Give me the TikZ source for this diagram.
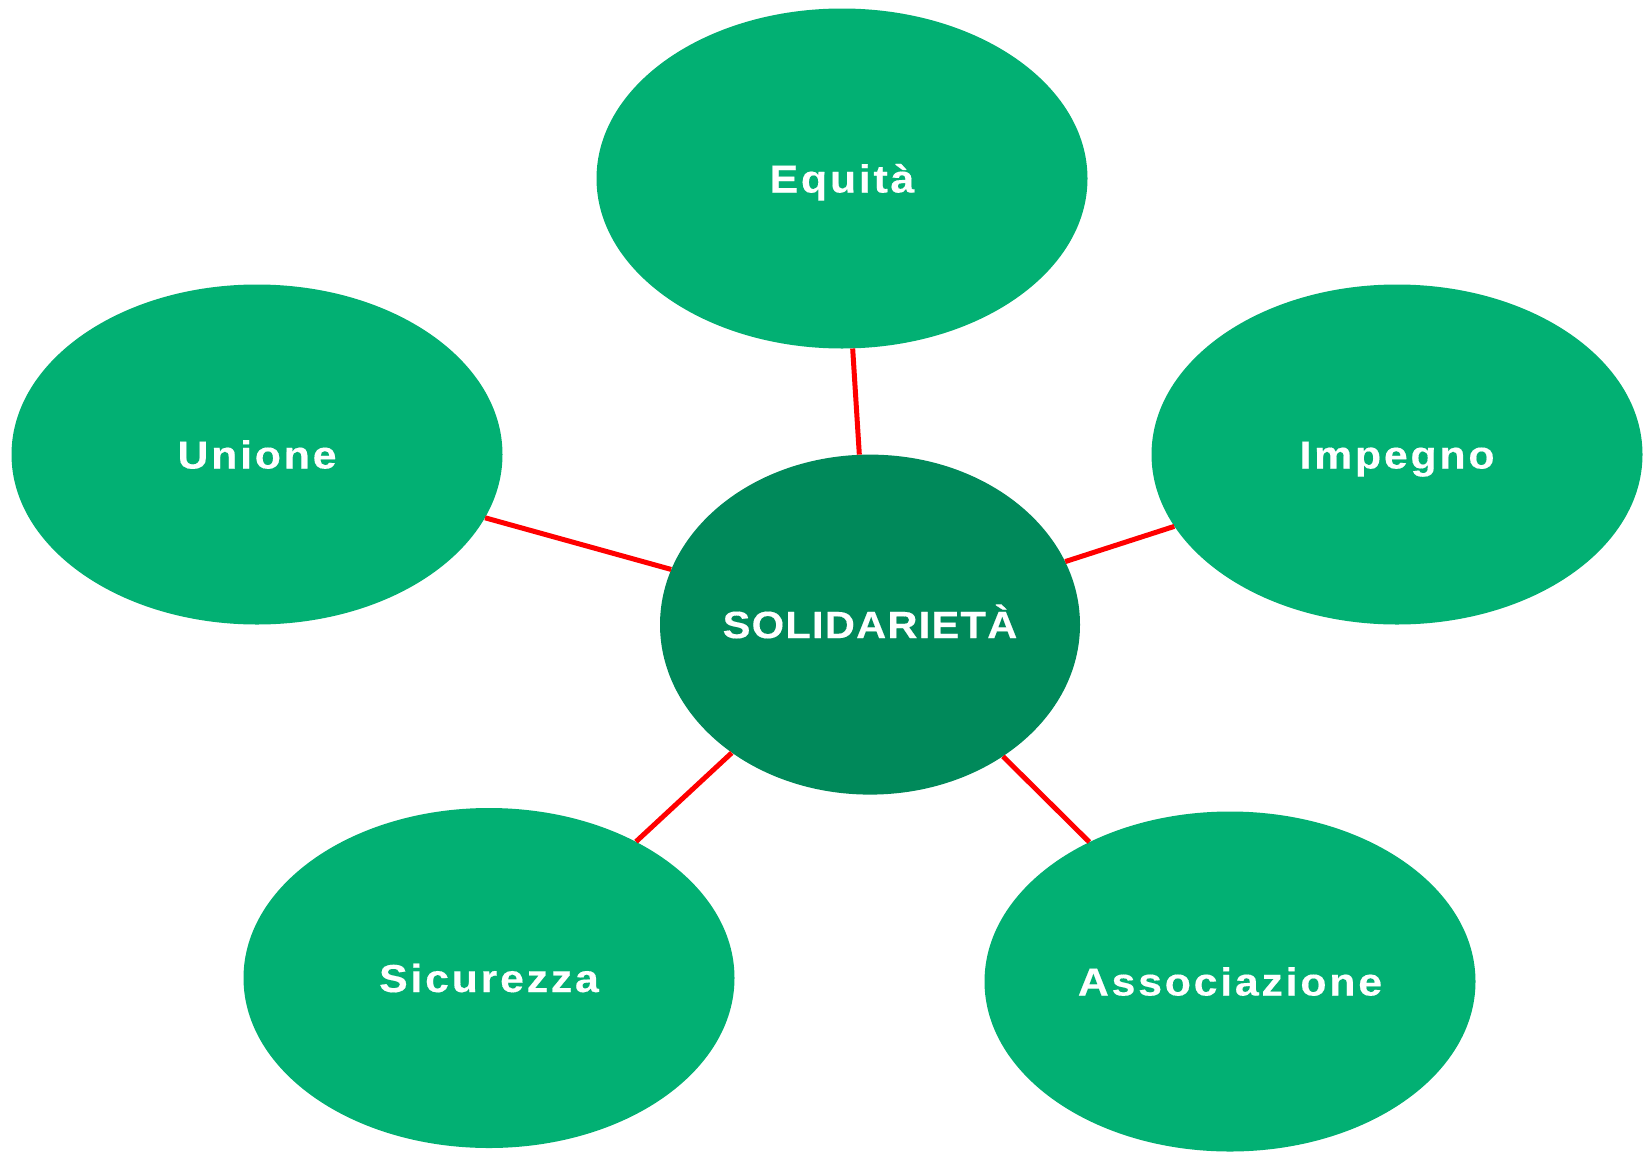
\documentclass[tikz,border=0pt]{standalone}
\usepackage{fontspec}
\setmainfont{Liberation Sans}
\usetikzlibrary{shapes.geometric}
\definecolor{outergreen}{RGB}{2,176,115}
\definecolor{innergreen}{RGB}{0,137,90}
\definecolor{linkred}{RGB}{255,0,0}
\begin{document}
\begin{tikzpicture}[x=1pt,y=-1pt,
  bubble/.style={ellipse,fill=outergreen,draw=none,inner sep=0pt,
    minimum width=491pt,minimum height=340pt,text=white,
    text height=28pt,text depth=0pt,
    font=\fontsize{39}{47}\selectfont\bfseries\addfontfeature{FakeStretch=1.1,FakeBold=0.3,LetterSpace=7}},
  hub/.style={ellipse,fill=innergreen,draw=none,inner sep=0pt,
    minimum width=420pt,minimum height=340pt,text=white,
    text height=27pt,text depth=0pt,
    font=\fontsize{38}{46}\selectfont\bfseries\addfontfeature{FakeStretch=1.1,FakeBold=0.3,LetterSpace=3}},
  link/.style={draw=linkred,line width=5pt}]
\useasboundingbox (0,0) rectangle (1646,1151);
\clip (0,0) rectangle (1646,1151);
\node[bubble] (eq) at (842,178.5) {Equità};
\node[bubble] (un) at (257,454.5) {Unione};
\node[bubble] (im) at (1397,454.5) {Impegno};
\node[bubble] (si) at (489,978) {Sicurezza};
\node[bubble] (as) at (1230,981.5) {Associazione};
\node[hub] (c) at (870,624.6) {SOLIDARIETÀ};
\draw[link] (eq) -- (c);
\draw[link] (un) -- (c);
\draw[link] (im) -- (c);
\draw[link] (si) -- (c);
\draw[link] (as) -- (c);
\end{tikzpicture}
\end{document}
